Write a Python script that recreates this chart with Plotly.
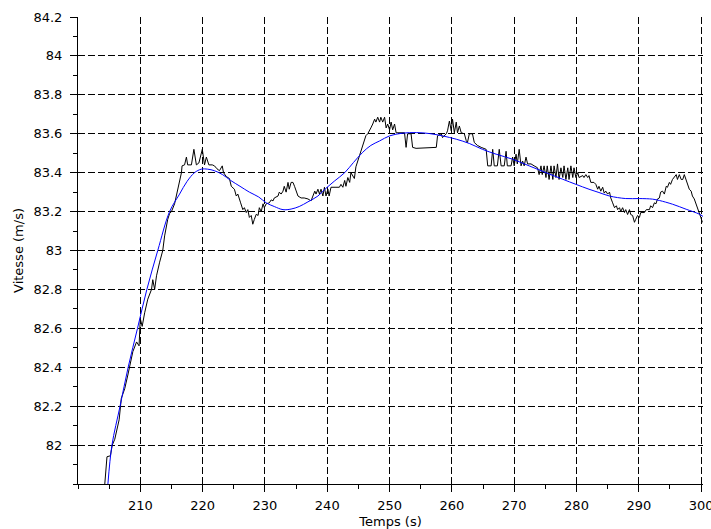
import plotly.graph_objects as go

# Measured speed (black)
t_meas = [204.3, 204.45, 204.65, 205.2, 205.5, 205.9, 206.6, 206.95, 207.5, 208.0, 208.3, 208.8, 209.4, 209.8,
          210.0, 210.3, 210.7, 211.2, 211.8, 212.0, 212.3, 212.6, 213.1, 213.4, 213.6, 213.9, 214.4, 214.7,
          215.0, 215.5, 216.05, 216.3, 216.6, 216.7, 217.1, 217.4, 217.6, 218.2, 218.6, 219.0, 219.4, 219.95,
          220.3, 220.6, 221.0, 221.55, 221.9, 222.3, 222.7, 223.15, 223.35, 223.8, 224.3, 224.6, 225.1, 225.4,
          225.65, 226.1, 226.45, 226.7, 227.0, 227.25, 227.5, 227.8, 228.05, 228.3, 228.6, 228.9, 229.1, 229.4,
          229.7, 229.9, 230.2, 230.7, 231.0, 231.3, 231.5, 232.1, 232.3, 232.6, 232.9, 233.1, 233.4, 233.7,
          233.9, 234.2, 234.5, 234.75, 235.0, 235.3, 235.8, 236.3, 236.9, 237.4, 237.7, 238.0, 238.2, 238.5,
          238.75, 239.0, 239.3, 239.55, 239.8, 240.1, 240.3, 240.6, 241.4, 241.95, 242.2, 242.5, 242.8, 243.0,
          243.3, 243.6, 243.8, 244.1, 244.35, 244.6, 244.9, 245.2, 245.45, 245.7, 246.0, 246.2, 246.5, 246.8,
          247.0, 247.3, 247.6, 247.8, 248.1, 248.4, 248.6, 248.9, 249.2, 249.45, 249.7, 250.0, 250.25, 250.5,
          250.8, 251.05, 252.4, 252.65, 252.9, 253.45, 253.7, 254.25, 257.5, 257.7, 258.3, 258.5, 258.8, 259.1,
          259.3, 259.6, 259.9, 260.1, 260.4, 260.7, 260.9, 261.2, 261.5, 262.0, 262.3, 262.5, 262.8, 263.3,
          263.6, 264.1, 264.7, 265.5, 265.75, 266.3, 266.55, 266.8, 267.3, 267.6, 267.9, 268.4, 268.7, 268.9,
          269.5, 269.75, 270.0, 270.3, 270.5, 270.8, 271.1, 271.35, 271.6, 271.9, 272.15, 272.7, 273.2, 273.75,
          274.0, 274.3, 274.5, 274.8, 275.1, 275.3, 275.6, 275.9, 276.2, 276.4, 276.7, 276.95, 277.2, 277.5,
          277.8, 278.0, 278.3, 278.6, 278.8, 279.1, 279.4, 279.6, 279.9, 280.2, 280.4, 281.0, 281.2, 281.5,
          281.8, 282.0, 282.3, 282.8, 283.1, 283.4, 283.6, 283.9, 284.2, 284.45, 284.7, 285.0, 285.3, 285.5,
          285.8, 286.1, 286.4, 286.6, 286.9, 287.1, 287.4, 287.7, 287.9, 288.2, 288.5, 288.7, 289.0, 289.3,
          289.5, 289.8, 290.1, 290.3, 290.9, 291.2, 291.7, 291.9, 292.2, 292.5, 292.75, 293.0, 293.3, 293.5,
          293.8, 294.1, 294.4, 294.6, 294.9, 295.1, 295.4, 295.7, 296.0, 296.2, 296.5, 296.8, 297.05, 297.3,
          297.6, 297.9, 298.1, 298.4, 298.6, 298.9, 299.2, 299.4, 299.7, 299.95, 300.2]
v_meas = [81.80, 81.86, 81.94, 81.945, 82.00, 82.03, 82.13, 82.24, 82.29, 82.36, 82.41, 82.48, 82.53, 82.51,
          82.65, 82.61, 82.68, 82.75, 82.80, 82.85, 82.80, 82.87, 82.94, 82.97, 83.00, 83.075, 83.16, 83.19,
          83.20, 83.24, 83.315, 83.36, 83.40, 83.435, 83.44, 83.48, 83.44, 83.44, 83.52, 83.44, 83.45, 83.52,
          83.44, 83.48, 83.44, 83.44, 83.435, 83.42, 83.41, 83.435, 83.40, 83.38, 83.37, 83.33, 83.315, 83.28,
          83.29, 83.245, 83.21, 83.22, 83.195, 83.21, 83.17, 83.18, 83.135, 83.16, 83.186, 83.18, 83.22, 83.20,
          83.24, 83.22, 83.24, 83.245, 83.26, 83.255, 83.27, 83.28, 83.30, 83.29, 83.305, 83.33, 83.30, 83.35,
          83.315, 83.35, 83.35, 83.33, 83.305, 83.28, 83.27, 83.27, 83.265, 83.255, 83.28, 83.305, 83.29, 83.315,
          83.29, 83.315, 83.28, 83.325, 83.28, 83.315, 83.28, 83.325, 83.325, 83.325, 83.34, 83.325, 83.36, 83.33,
          83.375, 83.35, 83.40, 83.38, 83.37, 83.43, 83.46, 83.48, 83.51, 83.54, 83.565, 83.59, 83.60, 83.615,
          83.63, 83.65, 83.675, 83.66, 83.685, 83.66, 83.685, 83.66, 83.685, 83.63, 83.65, 83.62, 83.66, 83.62,
          83.65, 83.605, 83.605, 83.53, 83.60, 83.60, 83.53, 83.525, 83.53, 83.59, 83.60, 83.58, 83.59, 83.60,
          83.615, 83.665, 83.615, 83.675, 83.605, 83.66, 83.605, 83.64, 83.605, 83.60, 83.565, 83.555, 83.60, 83.60,
          83.555, 83.54, 83.53, 83.52, 83.435, 83.435, 83.52, 83.435, 83.435, 83.52, 83.435, 83.435, 83.51, 83.435,
          83.435, 83.48, 83.435, 83.495, 83.445, 83.52, 83.435, 83.46, 83.435, 83.48, 83.445, 83.445, 83.435, 83.425,
          83.39, 83.435, 83.39, 83.435, 83.375, 83.435, 83.365, 83.435, 83.365, 83.435, 83.375, 83.445, 83.365, 83.425,
          83.375, 83.435, 83.365, 83.425, 83.365, 83.435, 83.375, 83.425, 83.375, 83.40, 83.375, 83.385, 83.375, 83.39,
          83.375, 83.385, 83.35, 83.35, 83.34, 83.315, 83.33, 83.305, 83.325, 83.295, 83.305, 83.29, 83.30, 83.27,
          83.245, 83.22, 83.23, 83.21, 83.22, 83.20, 83.22, 83.195, 83.21, 83.185, 83.21, 83.185, 83.18, 83.145,
          83.16, 83.18, 83.17, 83.195, 83.195, 83.21, 83.21, 83.23, 83.22, 83.245, 83.24, 83.265, 83.27, 83.30,
          83.305, 83.29, 83.33, 83.325, 83.35, 83.34, 83.365, 83.375, 83.39, 83.365, 83.39, 83.365, 83.365, 83.39,
          83.365, 83.33, 83.315, 83.305, 83.28, 83.265, 83.24, 83.22, 83.195, 83.17, 83.145]

# Smooth model (blue)
t_fit = [204.8, 205.45, 206.75, 208.05, 209.55, 211.05, 212.8, 214.7, 216.3, 217.5, 218.7, 219.8, 220.8, 221.9,
         223.2, 224.5, 226.0, 227.5, 229.0, 230.2, 231.5, 232.9, 234.2, 235.5, 236.9, 238.5, 239.8, 241.2,
         242.8, 244.2, 245.7, 247.0, 248.4, 250.0, 252.1, 254.3, 256.4, 258.5, 260.7, 262.8, 264.9, 267.1,
         269.75, 272.4, 275.1, 277.8, 279.9, 282.0, 283.6, 285.3, 287.9, 290.1, 292.2, 293.3, 295.4, 297.6,
         299.7, 300.3]
v_fit = [81.80, 82.00, 82.20, 82.40, 82.60, 82.80, 83.00, 83.20, 83.29, 83.355, 83.40, 83.418, 83.418, 83.41,
         83.39, 83.36, 83.33, 83.30, 83.275, 83.245, 83.226, 83.21, 83.213, 83.226, 83.25, 83.28, 83.32, 83.358,
         83.40, 83.452, 83.505, 83.54, 83.563, 83.589, 83.603, 83.606, 83.601, 83.589, 83.572, 83.55, 83.52, 83.495,
         83.469, 83.435, 83.40, 83.366, 83.34, 83.315, 83.298, 83.28, 83.267, 83.267, 83.264, 83.257, 83.238, 83.212,
         83.187, 83.175]

x_ticks = [210, 220, 230, 240, 250, 260, 270, 280, 290, 300]
y_ticks = [82.0, 82.2, 82.4, 82.6, 82.8, 83.0, 83.2, 83.4, 83.6, 83.8, 84.0, 84.2]
y_labels = ["82", "82.2", "82.4", "82.6", "82.8", "83", "83.2", "83.4", "83.6", "83.8", "84", "84.2"]

FONT = "DejaVu Sans"

fig = go.Figure()
fig.add_trace(go.Scatter(x=t_meas, y=v_meas, mode="lines",
                         line=dict(color="#000000", width=1), showlegend=False))
fig.add_trace(go.Scatter(x=t_fit, y=v_fit, mode="lines", line_shape="spline",
                         line=dict(color="#0000ff", width=1), showlegend=False))

axis_common = dict(
    showline=True, linecolor="#000000", linewidth=1,
    showgrid=True, gridcolor="#000000", gridwidth=1, griddash="7px,3px",
    zeroline=False, ticks="outside", ticklen=7, tickcolor="#000000", tickwidth=1,
    tickfont=dict(family=FONT, size=13, color="#000000"),
    mirror=False, ticklabeloverflow="allow",
)

fig.update_xaxes(**axis_common, range=[200, 300.3], tickmode="array", tickvals=x_ticks,
                 minor=dict(ticks="outside", ticklen=4, dtick=5, tick0=200, tickcolor="#000000", showgrid=False),
                 title=dict(text="Temps (s)", font=dict(family=FONT, size=13, color="#000000"), standoff=6),
                 ticklabelstandoff=2)
fig.update_yaxes(**axis_common, range=[81.8, 84.2], tickmode="array", tickvals=y_ticks, ticktext=y_labels,
                 minor=dict(ticks="outside", ticklen=4, dtick=0.1, tick0=82, tickcolor="#000000", showgrid=False),
                 title=dict(text="Vitesse (m/s)", font=dict(family=FONT, size=13, color="#000000"), standoff=6),
                 ticklabelstandoff=5)

fig.update_layout(
    width=711, height=529,
    margin=dict(l=78, r=8, t=17, b=45, autoexpand=False),
    paper_bgcolor="#ffffff", plot_bgcolor="#ffffff",
    font=dict(family=FONT, size=13, color="#000000"),
)

fig.write_html("out.html", config={"displayModeBar": False},
               post_script="document.body.style.margin='0px';document.body.style.overflow='hidden';")
